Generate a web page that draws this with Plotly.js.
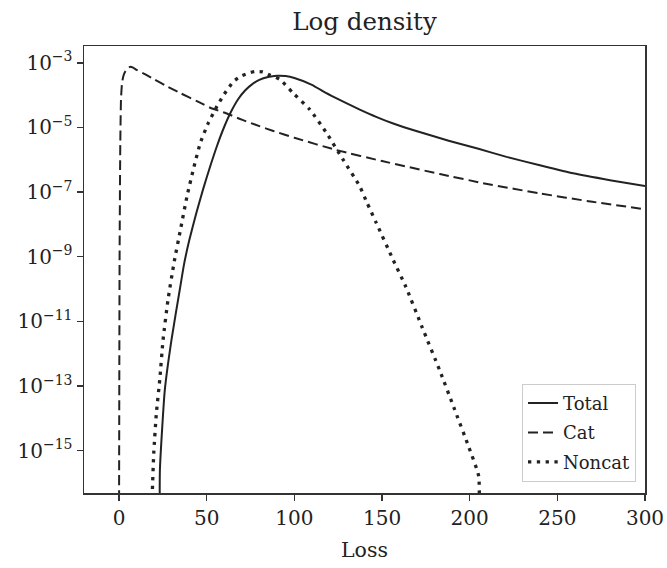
<!DOCTYPE html>
<html>
<head>
<meta charset="utf-8">
<script src="https://cdn.plot.ly/plotly-3.0.1.min.js"></script>
<style>html,body{margin:0;padding:0;background:#fff;}#chart{width:667px;height:568px;}</style>
</head>
<body>
<div id="chart"></div>
<script>
// ---- data ----
const totalX = [23.2, 23.3, 26.1, 29.9, 34.6, 37, 40, 44, 48, 52, 56, 60, 64, 68, 72, 76, 80, 85, 90, 95, 100, 110, 118, 127, 137, 147, 156, 170, 188, 205, 221, 240, 259, 280, 300];
const totalY = [1e-17, 2.57e-16, 7.59e-14, 2.69e-12, 9.33e-11, 5.62e-10, 3.16e-9, 2.19e-8, 1.26e-7, 6.31e-7, 2.82e-6, 1.05e-5, 3.16e-5, 7.59e-5, 1.41e-4, 2.19e-4, 2.95e-4, 3.63e-4, 3.98e-4, 3.89e-4, 3.39e-4, 2.09e-4, 1.17e-4, 6.61e-5, 3.63e-5, 2.09e-5, 1.35e-5, 7.59e-6, 3.89e-6, 2.19e-6, 1.23e-6, 6.76e-7, 3.80e-7, 2.34e-7, 1.55e-7];

const catX = [0, 0.3, 0.7, 1.1, 1.7, 2.5, 3.6, 5, 6.5, 8, 10, 15, 20, 27, 35, 45, 52, 61, 70, 80, 88, 100, 124, 150, 183, 210, 240, 270, 300];
const catY = [1e-17, 1e-9, 3.16e-6, 7.41e-5, 2.40e-4, 3.98e-4, 5.50e-4, 6.92e-4, 7.59e-4, 7.08e-4, 6.03e-4, 4.37e-4, 3.09e-4, 1.91e-4, 1.15e-4, 6.31e-5, 4.07e-5, 2.75e-5, 1.74e-5, 1.10e-5, 7.76e-6, 4.79e-6, 2.00e-6, 9.12e-7, 3.63e-7, 1.78e-7, 9.12e-8, 5.01e-8, 2.95e-8];

const noncatX = [18.8, 19.0, 19.8, 21.3, 23.2, 25.1, 27.9, 31.5, 35, 38.8, 42.5, 46.4, 51, 55.9, 60, 65.4, 70, 75, 78, 82, 86, 91.6, 99.2, 108.7, 118.2, 127.7, 137.2, 141.6, 146.7, 156.2, 163.5, 173, 183, 191, 199.5, 205.1, 205.4];
const noncatY = [1e-17, 5.5e-17, 8.51e-16, 1.48e-14, 1.55e-13, 2.69e-12, 4.57e-11, 7.24e-10, 6.76e-9, 7.59e-8, 5.37e-7, 3.39e-6, 1.41e-5, 4.57e-5, 1.07e-4, 2.69e-4, 3.98e-4, 5.01e-4, 5.37e-4, 5.25e-4, 4.17e-4, 3.09e-4, 1.17e-4, 3.63e-5, 6.92e-6, 1.02e-6, 1.55e-7, 4.47e-8, 1.12e-8, 8.32e-10, 1.20e-10, 6.31e-12, 2.95e-13, 2.14e-14, 1.29e-15, 1.66e-16, 1e-17];

const xTickVals = [0, 50, 100, 150, 200, 250, 300];
const yTickVals = [1e-3, 1e-5, 1e-7, 1e-9, 1e-11, 1e-13, 1e-15];
const yTickText = ['10<sup>\u22123</sup>', '10<sup>\u22125</sup>', '10<sup>\u22127</sup>', '10<sup>\u22129</sup>', '10<sup>\u221211</sup>', '10<sup>\u221213</sup>', '10<sup>\u221215</sup>'];
const seriesNames = ['Total', 'Cat', 'Noncat'];

// ---- chart ----
const FONT = 'DejaVu Serif, Liberation Serif, serif';
const INK = '#222';
const traces = [
  {x: totalX, y: totalY, name: seriesNames[0], legendgroup: 'a', mode: 'lines', line: {color: INK, width: 2, shape: 'spline', smoothing: 0.5}},
  {x: catX, y: catY, name: seriesNames[1], legendgroup: 'b', mode: 'lines', line: {color: INK, width: 2, dash: '10px,5px', shape: 'spline', smoothing: 0.5}},
  {x: noncatX, y: noncatY, name: seriesNames[2], legendgroup: 'c', mode: 'lines', line: {color: INK, width: 3.3, dash: '3.3px,5.5px', shape: 'spline', smoothing: 0.5}}
];
const axisCommon = {
  showline: true, mirror: true, linecolor: '#333', linewidth: 1.5,
  ticks: 'outside', ticklen: 6, tickwidth: 1.4, tickcolor: '#333',
  showgrid: false, zeroline: false,
  tickfont: {family: FONT, size: 20, color: INK}
};
const layout = {
  width: 667, height: 568,
  margin: {l: 84, r: 22, t: 46, b: 75},
  paper_bgcolor: '#fff', plot_bgcolor: '#fff',
  font: {family: FONT, color: INK},
  title: {text: 'Log density', font: {family: FONT, size: 24.5, color: INK}, x: 0.5465, xanchor: 'center', y: 0.962, yanchor: 'middle'},
  xaxis: Object.assign({}, axisCommon, {
    range: [-20, 300], tickmode: 'array', tickvals: xTickVals,
    title: {text: 'Loss', font: {family: FONT, size: 20.5, color: INK}, standoff: 14}
  }),
  yaxis: Object.assign({}, axisCommon, {
    type: 'log', range: [-16.31, -2.48], tickmode: 'array', tickvals: yTickVals, ticktext: yTickText
  }),
  legend: {
    x: 0.984, xanchor: 'right', y: 0.025, yanchor: 'bottom',
    traceorder: 'grouped', tracegroupgap: 3,
    bgcolor: 'rgba(255,255,255,0.9)', bordercolor: '#ccc', borderwidth: 1,
    font: {family: FONT, size: 18, color: INK}
  },
  showlegend: true
};
Plotly.newPlot('chart', traces, layout, {staticPlot: true, displayModeBar: false});
</script>
</body>
</html>
